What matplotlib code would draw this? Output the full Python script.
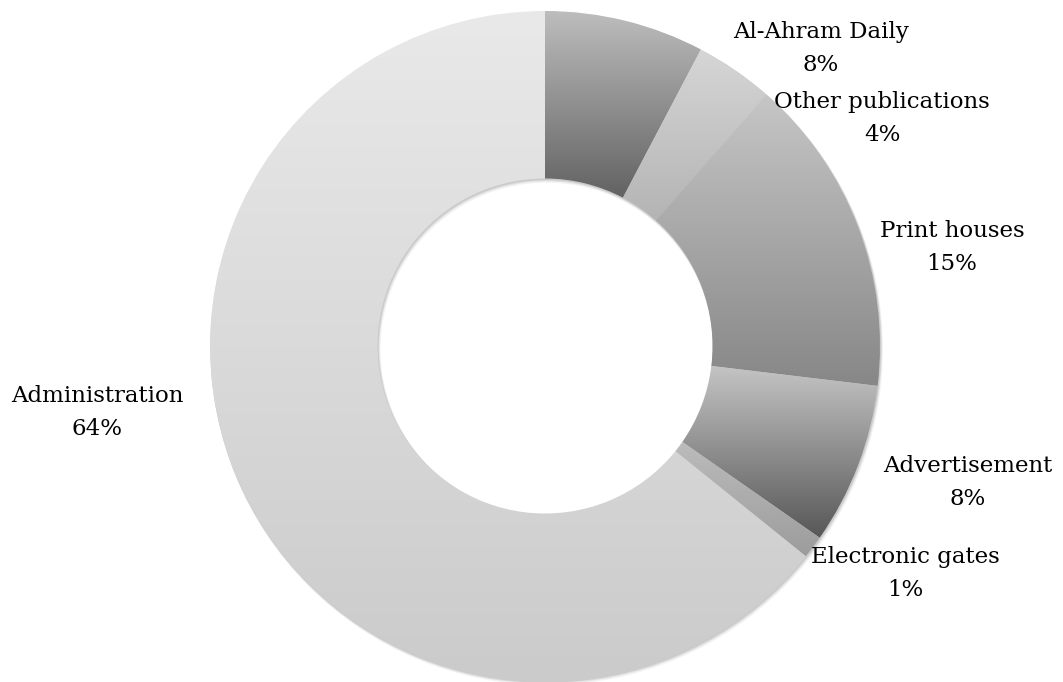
import numpy as np
import matplotlib.pyplot as plt
from matplotlib.colors import LinearSegmentedColormap
from matplotlib.patches import Wedge

# department shares (%), clockwise from 12 o'clock
categories = ['Al-Ahram Daily', 'Other publications', 'Print houses',
              'Advertisement', 'Electronic gates', 'Administration']
shares = [7.7, 3.8, 15.4, 7.8, 1.1, 64.2]

# gradient colours (top, bottom) of every slice
tops = ['#bdbdbd', '#d6d6d6', '#c6c6c6', '#c4c4c4', '#bcbcbc', '#e9e9e9']
bottoms = ['#626262', '#b4b4b4', '#878787', '#575757', '#9c9c9c', '#cbcbcb']

# label anchors in pixels: centre x, baseline of the first line
label_pos = [(821, 38), (882, 108), (952, 237), (968, 472), (905, 563), (97, 402)]

W, H = 1063, 682
fig = plt.figure(figsize=(W / 100, H / 100), dpi=100)
ax = fig.add_axes([0, 0, 1, 1])

cx, cy, R = 545, H - 346, 335
wedges, _ = ax.pie(shares, startangle=90, counterclock=False, radius=R,
                   center=(cx, cy), wedgeprops=dict(width=R / 2, linewidth=0))

# soft drop shadow under the ring
for d, a in [(3.0, 0.05), (2.0, 0.07), (1.2, 0.09)]:
    ax.add_patch(Wedge((cx + d * 0.6, cy - d), R + d * 0.4, 0, 360, width=R / 2 + d * 0.8,
                       facecolor='black', alpha=a, linewidth=0, zorder=1))

grad = np.linspace(0, 1, 256).reshape(-1, 1)
for w, t, b in zip(wedges, tops, bottoms):
    ext = w.get_path().get_extents()
    cmap = LinearSegmentedColormap.from_list('g', [b, t])
    im = ax.imshow(grad, cmap=cmap, origin='lower', aspect='auto', zorder=2,
                   extent=(ext.x0, ext.x1, ext.y0, ext.y1))
    im.set_clip_path(w)
    w.set_facecolor('none')

font = dict(family='DejaVu Serif', size=16.5, color='black', ha='center', va='baseline')
for name, val, (x, y) in zip(categories, shares, label_pos):
    ax.text(x, H - y, name, **font)
    ax.text(x, H - y - 33, f'{val:.0f}%', **font)

ax.set_xlim(0, W)
ax.set_ylim(0, H)
ax.set_aspect('auto')
ax.axis('off')

fig.savefig('out.png', dpi=100)
